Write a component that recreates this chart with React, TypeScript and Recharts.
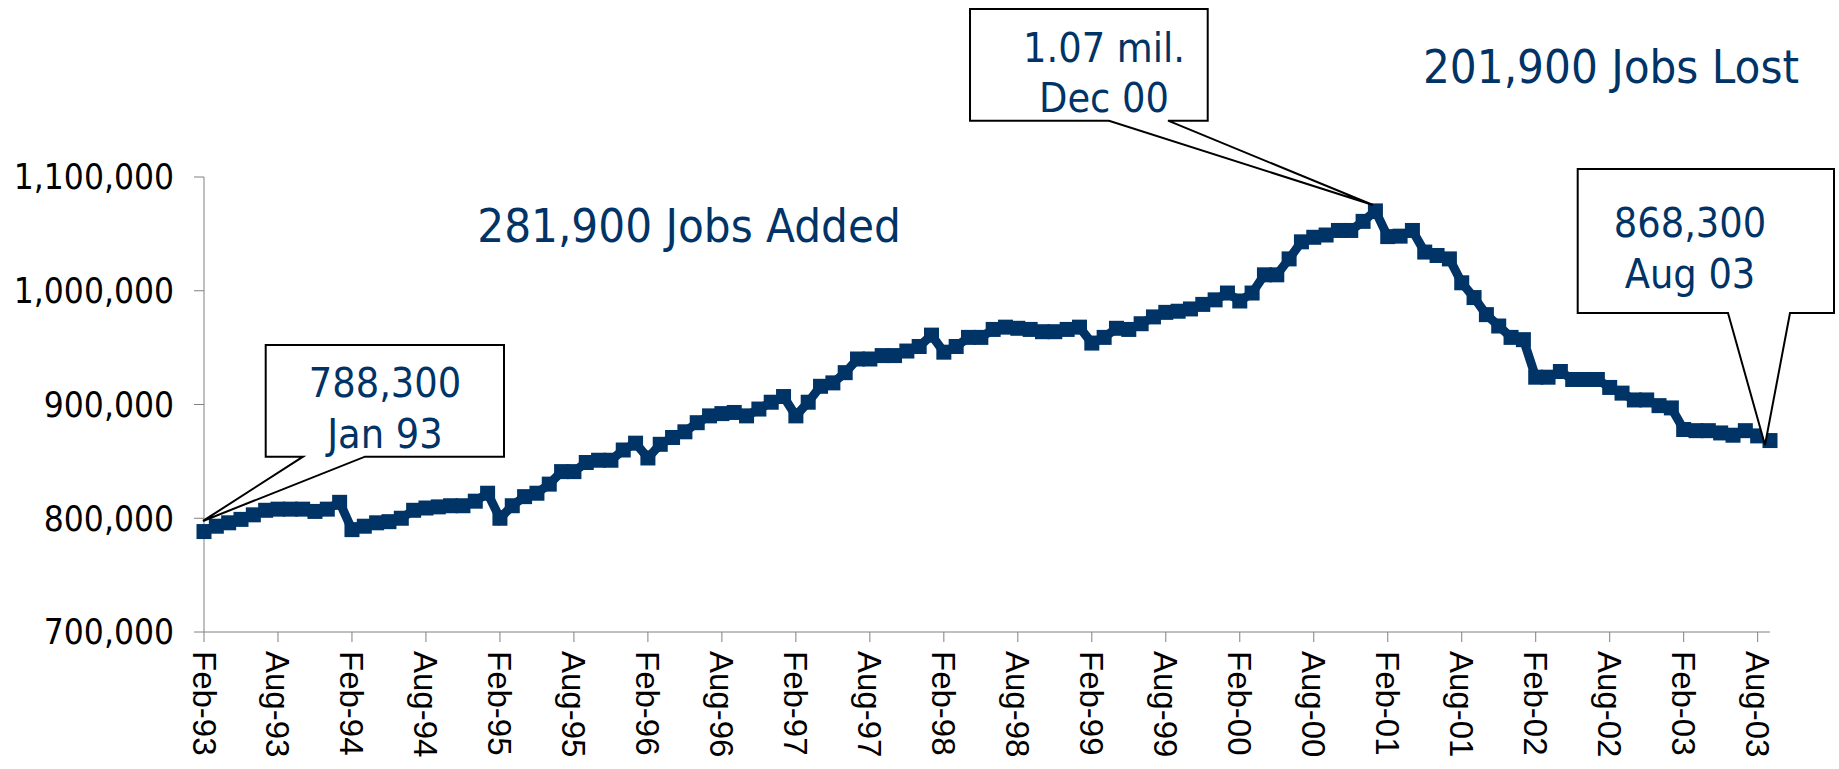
import React from 'react';
import { LineChart, Line, XAxis, YAxis, ReferenceDot, Customized } from 'recharts';

const NAVY = '#003366';
const AXIS = '#808080';
const TAHOMA = "'DejaVu Sans Condensed', 'DejaVu Sans', sans-serif";
const ARIAL = "'Liberation Sans', Arial, sans-serif";

// monthly categories, Jan-93 .. Aug-03
const MONTH_NAMES = ['Jan', 'Feb', 'Mar', 'Apr', 'May', 'Jun', 'Jul', 'Aug', 'Sep', 'Oct', 'Nov', 'Dec'];
const YEARS = ['93', '94', '95', '96', '97', '98', '99', '00', '01', '02', '03'];
const months = YEARS.flatMap((y) => MONTH_NAMES.map((m) => `${m}-${y}`)).slice(0, 128);

// employment
const jobs = [
  788300, 793000, 796000, 799000, 803000, 807000, 808000, 808000, 808000, 806000, 808000, 814000,
  790000, 793000, 796000, 797000, 800000, 807000, 809000, 810000, 811000, 811000, 815000, 822000,
  800000, 811000, 819000, 822000, 830000, 841000, 841000, 849000, 851000, 851000, 860000, 866000,
  853000, 865000, 871000, 876000, 884000, 890000, 892000, 893000, 890000, 896000, 902000, 907000,
  890000, 902000, 916000, 919000, 928000, 940000, 940000, 943000, 943000, 947000, 951000, 961000,
  946000, 951000, 959000, 959000, 966000, 968000, 967000, 966000, 964000, 964000, 966000, 968000,
  954000, 959000, 967000, 966000, 971000, 977000, 981000, 982000, 984000, 988000, 992000, 998000,
  991000, 998000, 1014000, 1014000, 1028000, 1043000, 1047000, 1049000, 1053000, 1053000, 1061000, 1070200,
  1047600, 1048000, 1053000, 1034000, 1031000, 1028000, 1007000, 994000, 979000, 969000, 959000, 957000,
  924000, 924000, 929000, 922000, 922000, 922000, 915000, 910000, 904000, 904000, 899000, 897000,
  878000, 877000, 877000, 875000, 873000, 877000, 872400, 868300,
];

const tickLabels = [
  'Feb-93', 'Aug-93', 'Feb-94', 'Aug-94', 'Feb-95', 'Aug-95', 'Feb-96', 'Aug-96', 'Feb-97', 'Aug-97', 'Feb-98',
  'Aug-98', 'Feb-99', 'Aug-99', 'Feb-00', 'Aug-00', 'Feb-01', 'Aug-01', 'Feb-02', 'Aug-02', 'Feb-03', 'Aug-03',
];
const xTicks = tickLabels.map((_, i) => i * 6);
const yTicks = [700000, 800000, 900000, 1000000, 1100000];

const data = jobs.map((v, i) => ({ idx: i, month: months[i], jobs: v }));

// callouts: box / pointer offsets are relative to the data point they point at
type Callout = {
  idx: number;
  lines: string[];
  tip: [number, number];
  box: [number, number, number, number]; // left, top, right, bottom
  base: [number, number];
  textX: number;
  baselines: [number, number];
};

const callouts: Callout[] = [
  { idx: 0, lines: ['788,300', 'Jan 93'], tip: [-1, -10.6], box: [61.7, -186.6, 300, -74.9], base: [99, 161], textX: 181, baselines: [-134.9, -83.6] },
  { idx: 95, lines: ['1.07 mil.', 'Dec 00'], tip: [-2.4, -5.9], box: [-405.4, -201.9, -167.7, -90.2], base: [-266.4, -207.4], textX: -271.4, baselines: [-149.2, -99.2] },
  { idx: 127, lines: ['868,300', 'Aug 03'], tip: [-5, 4.4], box: [-192.3, -271.6, 64, -127.6], base: [-42, 20], textX: -80, baselines: [-203.9, -152.6] },
];

function CalloutShape({ cx, cy, c }: { cx?: number; cy?: number; c: Callout }) {
  if (cx == null || cy == null) return <g />;
  const [l, t, r, b] = c.box;
  const d = `M${cx + l},${cy + t} H${cx + r} V${cy + b} H${cx + c.base[1]} L${cx + c.tip[0]},${cy + c.tip[1]} L${cx + c.base[0]},${cy + b} H${cx + l} Z`;
  return (
    <g>
      <path d={d} fill="#fff" stroke="#000" strokeWidth={2} strokeLinejoin="miter" />
      {c.lines.map((s, i) => (
        <text key={s} x={cx + c.textX} y={cy + c.baselines[i]} textAnchor="middle" fill={NAVY} fontFamily={TAHOMA} fontSize={41}>
          {s}
        </text>
      ))}
    </g>
  );
}

const SquareDot = (p: any) => {
  if (p.cx == null || p.cy == null) return <g key={`sq-${p.index}`} />;
  return <rect key={`sq-${p.index}`} x={p.cx - 7.5} y={p.cy - 7.5} width={15} height={15} fill={NAVY} />;
};

const XTick = ({ x, y, payload }: any) => (
  <text
    transform={`translate(${x},${y}) rotate(90)`}
    textAnchor="start"
    dominantBaseline="central"
    fill="#000"
    fontFamily={ARIAL}
    fontSize={33}
  >
    {tickLabels[Math.round(payload.value / 6)]}
  </text>
);

const Titles = () => (
  <g fill={NAVY} fontFamily={TAHOMA} fontSize={47} textAnchor="middle">
    <text x={689} y={241.7}>281,900 Jobs Added</text>
    <text x={1611} y={83.3}>201,900 Jobs Lost</text>
  </g>
);

export default function App() {
  return (
    <div style={{ position: 'absolute', left: 0, top: 0, background: '#fff' }}>
      <LineChart width={1839} height={769} data={data} margin={{ top: 177, right: 69, bottom: 0, left: 0 }}>
        <XAxis
          type="number"
          dataKey="idx"
          domain={[0, 127]}
          ticks={xTicks}
          interval={0}
          height={137}
          tickSize={10}
          tickMargin={9}
          stroke={AXIS}
          tick={<XTick />}
        />
        <YAxis
          domain={[700000, 1100000]}
          ticks={yTicks}
          width={204}
          tickSize={10}
          tickMargin={20}
          stroke={AXIS}
          allowDataOverflow
          tickFormatter={(v: number) => v.toLocaleString('en-US')}
          tick={{ fill: '#000', fontFamily: TAHOMA, fontSize: 35 }}
        />
        <Line
          type="linear"
          dataKey="jobs"
          stroke={NAVY}
          strokeWidth={9}
          dot={SquareDot}
          activeDot={false}
          isAnimationActive={false}
        />
        {callouts.map((c) => (
          <ReferenceDot
            key={c.idx}
            x={c.idx}
            y={jobs[c.idx]}
            r={0}
            ifOverflow="visible"
            shape={(p: any) => <CalloutShape cx={p.cx} cy={p.cy} c={c} />}
          />
        ))}
        <Customized component={Titles} />
      </LineChart>
    </div>
  );
}
